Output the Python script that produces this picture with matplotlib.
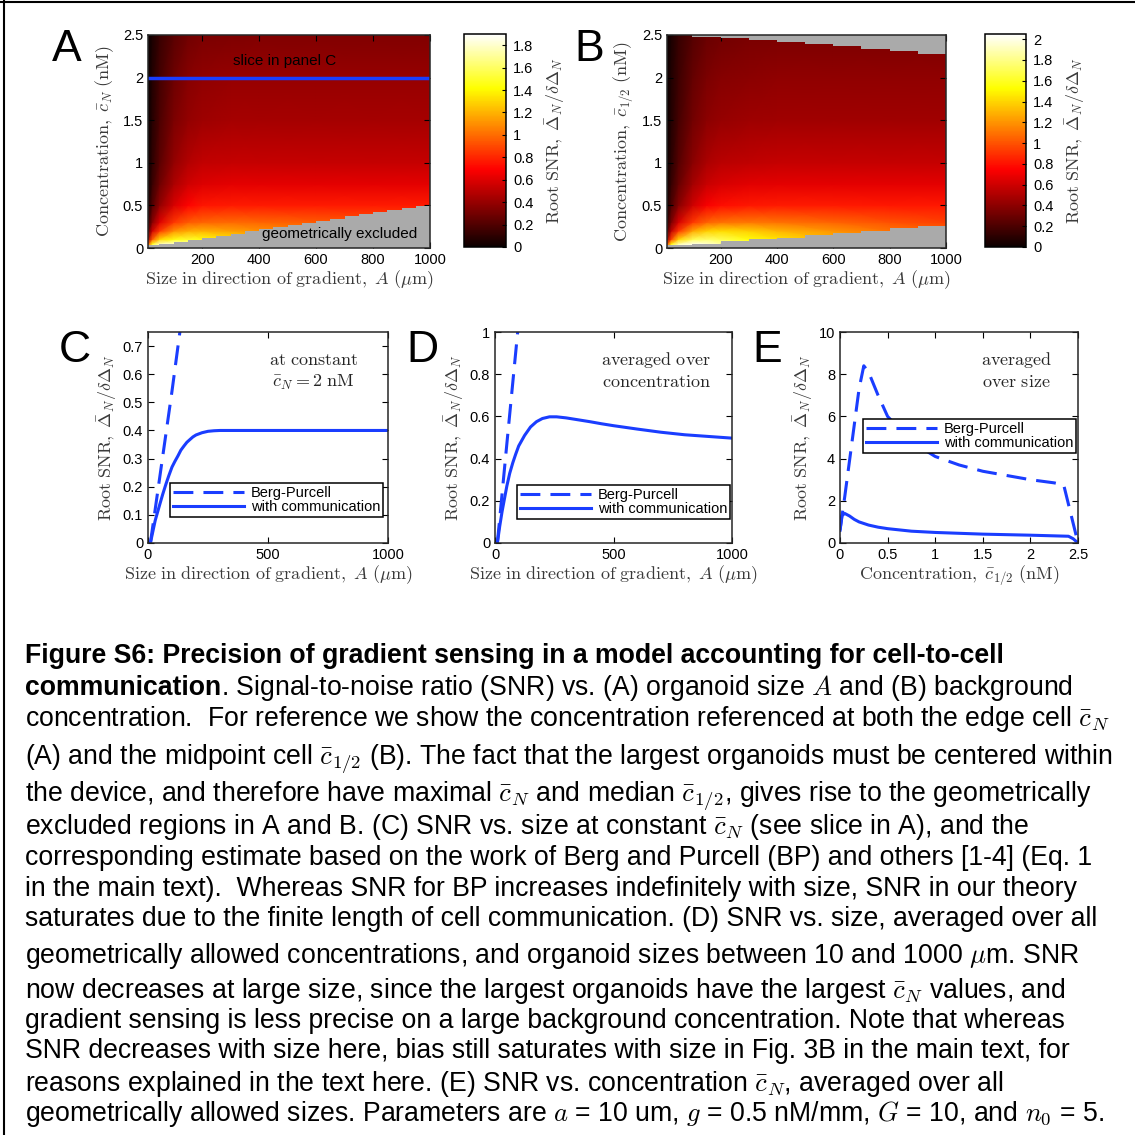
import numpy as np
import matplotlib.pyplot as plt
from matplotlib.ticker import FormatStrFormatter
from matplotlib.lines import Line2D

plt.rcParams['font.family'] = ['Liberation Sans', 'DejaVu Sans']
plt.rcParams['mathtext.fontset'] = 'cm'
plt.rcParams['axes.linewidth'] = 1.1
plt.rcParams['xtick.direction'] = 'in'
plt.rcParams['ytick.direction'] = 'in'
plt.rcParams['xtick.top'] = True
plt.rcParams['ytick.right'] = True
plt.rcParams['xtick.major.size'] = 4
plt.rcParams['ytick.major.size'] = 4
plt.rcParams['xtick.labelsize'] = 10.5
plt.rcParams['ytick.labelsize'] = 10.5

# ---- heat map data ----
size_grid = [10, 25, 50, 100, 150, 200, 300, 400, 600, 800, 1000]
conc_grid = [0, 0.05, 0.1, 0.2, 0.3, 0.5, 0.75, 1.0, 1.5, 2.0, 2.5]

# rows = conc_grid (low -> high), cols = size_grid
snr_A = [
    [1.20, 1.70, 1.90, 1.90, 1.85, 1.75, 1.55, 1.40, 1.30, 1.20, 1.10],
    [0.90, 1.45, 1.75, 1.80, 1.75, 1.65, 1.50, 1.35, 1.25, 1.15, 1.10],
    [0.45, 0.95, 1.30, 1.45, 1.50, 1.45, 1.35, 1.25, 1.15, 1.10, 1.05],
    [0.20, 0.55, 0.85, 1.10, 1.18, 1.20, 1.15, 1.10, 1.05, 1.02, 1.00],
    [0.10, 0.35, 0.60, 0.85, 0.95, 0.98, 1.00, 0.98, 0.95, 0.93, 0.92],
    [0.04, 0.20, 0.38, 0.58, 0.70, 0.75, 0.77, 0.77, 0.77, 0.77, 0.77],
    [0.02, 0.13, 0.28, 0.46, 0.56, 0.60, 0.62, 0.62, 0.62, 0.62, 0.62],
    [0.01, 0.10, 0.23, 0.39, 0.48, 0.52, 0.53, 0.53, 0.53, 0.53, 0.53],
    [0.00, 0.08, 0.18, 0.32, 0.39, 0.42, 0.44, 0.44, 0.44, 0.44, 0.44],
    [0.00, 0.07, 0.16, 0.28, 0.35, 0.38, 0.40, 0.40, 0.40, 0.40, 0.40],
    [0.00, 0.05, 0.13, 0.23, 0.29, 0.32, 0.33, 0.34, 0.34, 0.34, 0.34],
]
snr_B = [
    [1.20, 1.75, 2.05, 2.05, 2.00, 1.90, 1.75, 1.60, 1.45, 1.35, 1.25],
    [0.90, 1.50, 1.85, 2.00, 1.95, 1.85, 1.70, 1.55, 1.40, 1.30, 1.20],
    [0.45, 0.95, 1.40, 1.70, 1.75, 1.70, 1.55, 1.45, 1.30, 1.20, 1.15],
    [0.20, 0.55, 0.90, 1.25, 1.38, 1.42, 1.38, 1.30, 1.20, 1.10, 1.05],
    [0.10, 0.35, 0.62, 0.92, 1.05, 1.10, 1.12, 1.10, 1.05, 1.00, 0.95],
    [0.04, 0.20, 0.38, 0.60, 0.73, 0.79, 0.82, 0.83, 0.83, 0.82, 0.82],
    [0.02, 0.13, 0.28, 0.47, 0.58, 0.63, 0.66, 0.67, 0.67, 0.67, 0.67],
    [0.01, 0.10, 0.23, 0.39, 0.49, 0.54, 0.56, 0.57, 0.57, 0.57, 0.57],
    [0.00, 0.08, 0.18, 0.32, 0.40, 0.43, 0.45, 0.46, 0.46, 0.46, 0.46],
    [0.00, 0.07, 0.16, 0.28, 0.35, 0.38, 0.40, 0.41, 0.41, 0.41, 0.41],
    [0.00, 0.05, 0.13, 0.23, 0.29, 0.32, 0.34, 0.35, 0.35, 0.35, 0.35],
]

# geometrically excluded region (step edges)
excl_A_x = [10, 50, 100, 150, 200, 250, 300, 350, 400, 450, 500, 550, 600,
            650, 700, 750, 800, 850, 900, 950, 1000]
excl_A_low = [0.03, 0.05, 0.07, 0.095, 0.12, 0.145, 0.17, 0.195, 0.22, 0.245,
              0.27, 0.295, 0.32, 0.345, 0.37, 0.395, 0.42, 0.445, 0.47, 0.495, 0.52]
excl_B_x = [10, 100, 200, 300, 400, 500, 600, 700, 800, 900, 1000]
excl_B_low = [0.03, 0.05, 0.08, 0.10, 0.12, 0.15, 0.18, 0.20, 0.23, 0.26, 0.26]
excl_B_high = [2.50, 2.48, 2.46, 2.44, 2.42, 2.40, 2.37, 2.34, 2.31, 2.28, 2.28]
slice_conc = 2.0

# ---- line panels ----
C_bp_size = [10, 50, 100, 150]
C_bp_snr = [0.0, 0.24, 0.54, 0.86]
C_comm_size = [10, 20, 30, 40, 50, 62, 75, 87, 100, 112, 125, 137, 150, 162, 175,
               187, 200, 225, 250, 275, 300, 350, 1000]
C_comm_snr = [0.0, 0.04, 0.08, 0.11, 0.14, 0.175, 0.21, 0.24, 0.27, 0.29, 0.31,
              0.33, 0.345, 0.358, 0.368, 0.377, 0.384, 0.392, 0.397, 0.399, 0.40, 0.40, 0.40]

D_bp_size = [10, 50, 100]
D_bp_snr = [0.0, 0.47, 1.05]
D_comm_size = [10, 20, 30, 40, 50, 62, 75, 87, 100, 125, 150, 175, 200, 230, 260, 300,
               350, 400, 450, 500, 600, 700, 800, 900, 1000]
D_comm_snr = [0.0, 0.08, 0.15, 0.21, 0.27, 0.33, 0.38, 0.42, 0.46, 0.51, 0.55, 0.575,
              0.59, 0.598, 0.598, 0.593, 0.584, 0.575, 0.565, 0.556, 0.54, 0.525,
              0.513, 0.505, 0.497]

E_bp_conc = [0, 0.05, 0.1, 0.15, 0.2, 0.25, 0.3, 0.4, 0.5, 0.75, 1.0, 1.25, 1.5,
             1.75, 2.0, 2.25, 2.35, 2.5]
E_bp_snr = [0.6, 2.2, 3.9, 5.6, 7.3, 8.4, 8.1, 7.0, 6.0, 4.8, 4.1, 3.7, 3.4,
            3.2, 3.0, 2.85, 2.75, 0.0]
E_comm_conc = [0, 0.02, 0.05, 0.1, 0.15, 0.2, 0.3, 0.4, 0.5, 0.75, 1.0, 1.5, 2.0,
               2.4, 2.45, 2.5]
E_comm_snr = [0.6, 1.3, 1.4, 1.28, 1.12, 1.0, 0.85, 0.75, 0.68, 0.56, 0.5, 0.42,
              0.37, 0.32, 0.2, 0.0]

BLUE = '#1a3dff'
GRAY = '#aaaaaa'
LBL = '#3a3a3a'

W = H = 1135
fig = plt.figure(figsize=(W / 100, H / 100), dpi=100)


def box(l, t, r, b):
    return [l / W, 1 - b / H, (r - l) / W, (b - t) / H]


def rm(s):
    return r'$\mathrm{' + s.replace(' ', r'\ ') + '}$'


size_lbl = r'$\mathrm{Size\ in\ direction\ of\ gradient,}\ A\ (\mu\mathrm{m})$'
snr_lbl = r'$\mathrm{Root\ SNR,}\ \bar{\Delta}_N/\delta\Delta_N$'
fmt = FormatStrFormatter('%g')
LBL_FS = 13


def heat_panel(ax_rect, cax_rect, Z, vmax, cticks, ylab):
    ax = fig.add_axes(box(*ax_rect))
    X, Y = np.meshgrid(size_grid, conc_grid)
    m = ax.pcolormesh(X, Y, np.array(Z), shading='gouraud', cmap='hot',
                      vmin=0, vmax=vmax, rasterized=True)
    ax.set_xlim(10, 1000)
    ax.set_ylim(0, 2.5)
    ax.set_xticks([200, 400, 600, 800, 1000])
    ax.set_yticks([0, 0.5, 1, 1.5, 2, 2.5])
    ax.yaxis.set_major_formatter(fmt)
    ax.set_xlabel(size_lbl, fontsize=LBL_FS, color=LBL, labelpad=1)
    ax.set_ylabel(ylab, fontsize=LBL_FS, color=LBL, labelpad=5)
    for s in ax.spines.values():
        s.set_color('#262626')
        s.set_zorder(5)
    cax = fig.add_axes(box(*cax_rect))
    cb = fig.colorbar(m, cax=cax)
    cb.set_ticks(cticks)
    cb.ax.yaxis.set_major_formatter(fmt)
    cb.outline.set_linewidth(1.1)
    cax.tick_params(direction='in', length=3, labelsize=10.5, pad=5)
    cb.set_label(snr_lbl, fontsize=LBL_FS, color=LBL, labelpad=7)
    return ax


axA = heat_panel((148, 35, 430, 248), (464, 34, 506, 247), snr_A, 1.9,
                 [0, 0.2, 0.4, 0.6, 0.8, 1, 1.2, 1.4, 1.6, 1.8],
                 r'$\mathrm{Concentration,}\ \bar{c}_N\ \mathrm{(nM)}$')
axA.fill_between(excl_A_x, 0, excl_A_low, step='post', color=GRAY, lw=0, zorder=2)
axA.axhline(slice_conc, color=BLUE, lw=2.5, zorder=3)
axA.text(490, 2.2, 'slice in panel C', ha='center', va='center', fontsize=11)
axA.text(681, 0.17, 'geometrically excluded', ha='center', va='center', fontsize=11)
axA.text(-0.29, 0.93, 'A', transform=axA.transAxes, fontsize=32, ha='center', va='center')

axB = heat_panel((667, 35, 946, 248), (985, 34, 1026, 247), snr_B, 2.05,
                 [0, 0.2, 0.4, 0.6, 0.8, 1, 1.2, 1.4, 1.6, 1.8, 2],
                 r'$\mathrm{Concentration,}\ \bar{c}_{1/2}\ \mathrm{(nM)}$')
axB.fill_between(excl_B_x, 0, excl_B_low, step='post', color=GRAY, lw=0, zorder=2)
axB.fill_between(excl_B_x, excl_B_high, 2.5, step='post', color=GRAY, lw=0, zorder=2)
axB.text(-0.28, 0.93, 'B', transform=axB.transAxes, fontsize=32, ha='center', va='center')


def line_panel(rect, xs_bp, ys_bp, xs_c, ys_c, letter, note, leg_xy):
    ax = fig.add_axes(box(*rect))
    ax.plot(xs_bp, ys_bp, color=BLUE, lw=2.2, ls=(0, (6.5, 3.3)), label='Berg-Purcell')
    ax.plot(xs_c, ys_c, color=BLUE, lw=2.2, label='with communication')
    for s in ax.spines.values():
        s.set_color('#262626')
    ax.yaxis.set_major_formatter(fmt)
    ax.set_ylabel(snr_lbl, fontsize=LBL_FS, color=LBL, labelpad=3)
    leg = ax.legend(loc='upper left', bbox_to_anchor=leg_xy, borderaxespad=0,
                    fontsize=10.5, handlelength=4.9, handletextpad=0.45,
                    labelspacing=0.0, borderpad=0.2, fancybox=False,
                    edgecolor='k', framealpha=1)
    leg.get_frame().set_linewidth(1.1)
    fig.text((rect[0] - 73) / W, 1 - 350 / H, letter, fontsize=32, ha='center', va='center')
    ax.text(note[0], 0.867, note[1], transform=ax.transAxes, ha='center', va='center',
            fontsize=13, color='#262626')
    ax.text(note[0], 0.763, note[2], transform=ax.transAxes, ha='center', va='center',
            fontsize=13, color='#262626')
    return ax


axC = line_panel((148, 332, 388, 543), C_bp_size, C_bp_snr, C_comm_size, C_comm_snr,
                 'C', (0.69, rm('at constant'), r'$\bar{c}_N = 2\ \mathrm{nM}$'),
                 (0.092, 0.284))
axC.set_xlim(0, 1000)
axC.set_ylim(0, 0.75)
axC.set_xticks([0, 500, 1000])
axC.set_yticks([0, 0.1, 0.2, 0.3, 0.4, 0.5, 0.6, 0.7])
axC.set_xlabel(size_lbl, fontsize=LBL_FS, color=LBL, labelpad=1)

axD = line_panel((495, 332, 732, 543), D_bp_size, D_bp_snr, D_comm_size, D_comm_snr,
                 'D', (0.68, rm('averaged over'), rm('concentration')),
                 (0.093, 0.275))
axD.set_xlim(0, 1000)
axD.set_ylim(0, 1)
axD.set_xticks([0, 500, 1000])
axD.set_yticks([0, 0.2, 0.4, 0.6, 0.8, 1])
axD.set_xlabel(size_lbl, fontsize=LBL_FS, color=LBL, labelpad=1)

axE = line_panel((840, 332, 1078, 543), E_bp_conc, E_bp_snr, E_comm_conc, E_comm_snr,
                 'E', (0.74, rm('averaged'), rm('over size')),
                 (0.097, 0.588))
axE.set_xlim(0, 2.5)
axE.set_ylim(0, 10)
axE.set_xticks([0, 0.5, 1, 1.5, 2, 2.5])
axE.xaxis.set_major_formatter(fmt)
axE.set_yticks([0, 2, 4, 6, 8, 10])
axE.set_xlabel(r'$\mathrm{Concentration,}\ \bar{c}_{1/2}\ \mathrm{(nM)}$',
               fontsize=LBL_FS, color=LBL, labelpad=1)

# ---- caption ----
cap_fs = 19.2
x0 = 25 / W
cap_lines = [
    (663, None),
    (695, None),
    (726, r'concentration.  For reference we show the concentration referenced at both the edge cell $\bar{c}_N$'),
    (764, r'(A) and the midpoint cell $\bar{c}_{1/2}$ (B). The fact that the largest organoids must be centered within'),
    (801, r'the device, and therefore have maximal $\bar{c}_N$ and median $\bar{c}_{1/2}$, gives rise to the geometrically'),
    (834, r'excluded regions in A and B. (C) SNR vs. size at constant $\bar{c}_N$ (see slice in A), and the'),
    (865, r'corresponding estimate based on the work of Berg and Purcell (BP) and others [1-4] (Eq. 1'),
    (896, r'in the main text).  Whereas SNR for BP increases indefinitely with size, SNR in our theory'),
    (926, r'saturates due to the finite length of cell communication. (D) SNR vs. size, averaged over all'),
    (963, r'geometrically allowed concentrations, and organoid sizes between 10 and 1000 $\mu$m. SNR'),
    (998, r'now decreases at large size, since the largest organoids have the largest $\bar{c}_N$ values, and'),
    (1028, r'gradient sensing is less precise on a large background concentration. Note that whereas'),
    (1058, r'SNR decreases with size here, bias still saturates with size in Fig. 3B in the main text, for'),
    (1091, r'reasons explained in the text here. (E) SNR vs. concentration $\bar{c}_N$, averaged over all'),
    (1121, r'geometrically allowed sizes. Parameters are $a$ = 10 um, $g$ = 0.5 nM/mm, $G$ = 10, and $n_0$ = 5.'),
]
fig.text(x0, 1 - cap_lines[0][0] / H,
         'Figure S6: Precision of gradient sensing in a model accounting for cell-to-cell',
         fontsize=cap_fs, fontweight='bold', va='baseline')
renderer = fig.canvas.get_renderer()
t = fig.text(x0, 1 - cap_lines[1][0] / H, 'communication', fontsize=cap_fs,
             fontweight='bold', va='baseline')
bb = t.get_window_extent(renderer)
fig.text(bb.x1 / W, 1 - cap_lines[1][0] / H,
         r'. Signal-to-noise ratio (SNR) vs. (A) organoid size $A$ and (B) background',
         fontsize=cap_fs, va='baseline')
for yb, s in cap_lines[2:]:
    fig.text(x0, 1 - yb / H, s, fontsize=cap_fs, va='baseline')

# outer frame (top and left edges)
fig.add_artist(Line2D([4 / W, 4 / W], [0, 1], transform=fig.transFigure, color='k', lw=1.5))
fig.add_artist(Line2D([0, 1], [1 - 1.5 / H, 1 - 1.5 / H], transform=fig.transFigure, color='k', lw=1.5))

fig.savefig('out.png', dpi=100)
